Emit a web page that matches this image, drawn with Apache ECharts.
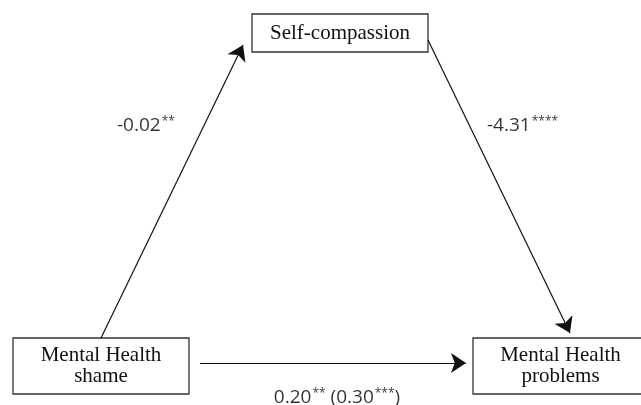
<!DOCTYPE html>
<html>
<head>
<meta charset="utf-8">
<script src="https://cdn.jsdelivr.net/npm/echarts@6/dist/echarts.min.js"></script>
<style>
  html, body { margin: 0; padding: 0; background: #fff; }
  #main { width: 641px; height: 405px; }
</style>
</head>
<body>
<div id="main"></div>
<script>
// boxes of the mediation model
const boxNames = ['Self-compassion', 'Mental Health\nshame', 'Mental Health\nproblems'];

// path coefficients and their stars (a, b, c' and total c)
const pathCoefs = ['-0.02', '-4.31', '0.20'];
const pathStars = ['**', '****', '**'];
const totalCoef = '0.30';
const totalStars = '***';

// layout (diagram units, one unit = one pixel of the picture)
const boxRects = [[252, 14, 428, 52], [13, 338, 189, 394], [473, 338, 648, 394]];
const arrowPaths = [[[101, 338], [243, 45]], [[428, 40], [570, 333]], [[200, 363], [466, 363]]];
const labelSpots = [[117, 126], [487, 126], [337, 398]];

var chartDom = document.getElementById('main');
var myChart = echarts.init(chartDom, null, { renderer: 'canvas' });

let labelTexts = [
    '{n|' + pathCoefs[0] + '}{s|' + pathStars[0] + '}',
    '{n|' + pathCoefs[1] + '}{s|' + pathStars[1] + '}',
    '{n|' + pathCoefs[2] + '}{s|' + pathStars[2] + '}{n| (' + totalCoef + '}{s|' + totalStars + '}{n|)}'
];

let richStyle = {
    n: { fontFamily: 'Open Sans', fontSize: 19, color: '#000', lineHeight: 20 },
    s: { fontFamily: 'Open Sans', fontSize: 12, color: '#000', verticalAlign: 'top', lineHeight: 12, padding: [0, 0, 0, 1] }
};

var option = {
    animation: false,
    grid: { left: 0, right: 0, top: 0, bottom: 0 },
    xAxis: { type: 'value', min: 0, max: 641, show: false },
    yAxis: { type: 'value', min: 0, max: 405, inverse: true, show: false },
    series: [
        {
            type: 'custom',
            coordinateSystem: 'cartesian2d',
            clip: false,
            encode: { x: [0, 2], y: [1, 3] },
            data: boxRects.map(function (r, i) { return r.concat([i]); }),
            renderItem: function (params, api) {
                let p0 = api.coord([api.value(0), api.value(1)]);
                let p1 = api.coord([api.value(2), api.value(3)]);
                let idx = api.value(4);
                return {
                    type: 'group',
                    children: [
                        {
                            type: 'rect',
                            shape: { x: p0[0], y: p0[1], width: p1[0] - p0[0], height: p1[1] - p0[1] },
                            style: { fill: '#fff', stroke: '#333', lineWidth: 1.3 }
                        },
                        {
                            type: 'text',
                            x: (p0[0] + p1[0]) / 2,
                            y: (p0[1] + p1[1]) / 2,
                            style: {
                                text: boxNames[idx],
                                fill: '#111',
                                font: '21px "Liberation Serif"',
                                lineHeight: 21,
                                align: 'center',
                                verticalAlign: 'middle'
                            }
                        }
                    ]
                };
            }
        },
        {
            type: 'lines',
            coordinateSystem: 'cartesian2d',
            symbol: ['none', 'arrow'],
            symbolSize: [8, 15],
            lineStyle: { color: '#111', width: 1.2, opacity: 1 },
            data: arrowPaths.map(function (p) { return { coords: p }; })
        },
        {
            type: 'scatter',
            symbolSize: 0,
            silent: true,
            data: labelSpots.map(function (p, i) {
                return {
                    value: p,
                    label: {
                        show: true,
                        position: i === 2 ? 'inside' : 'right',
                        distance: 0,
                        color: '#000',
                        fontSize: 19,
                        fontFamily: 'Open Sans',
                        formatter: labelTexts[i],
                        rich: richStyle
                    }
                };
            })
        }
    ]
};

option && myChart.setOption(option);
window.addEventListener('resize', function () {
    myChart.resize();
});
</script>
</body>
</html>
